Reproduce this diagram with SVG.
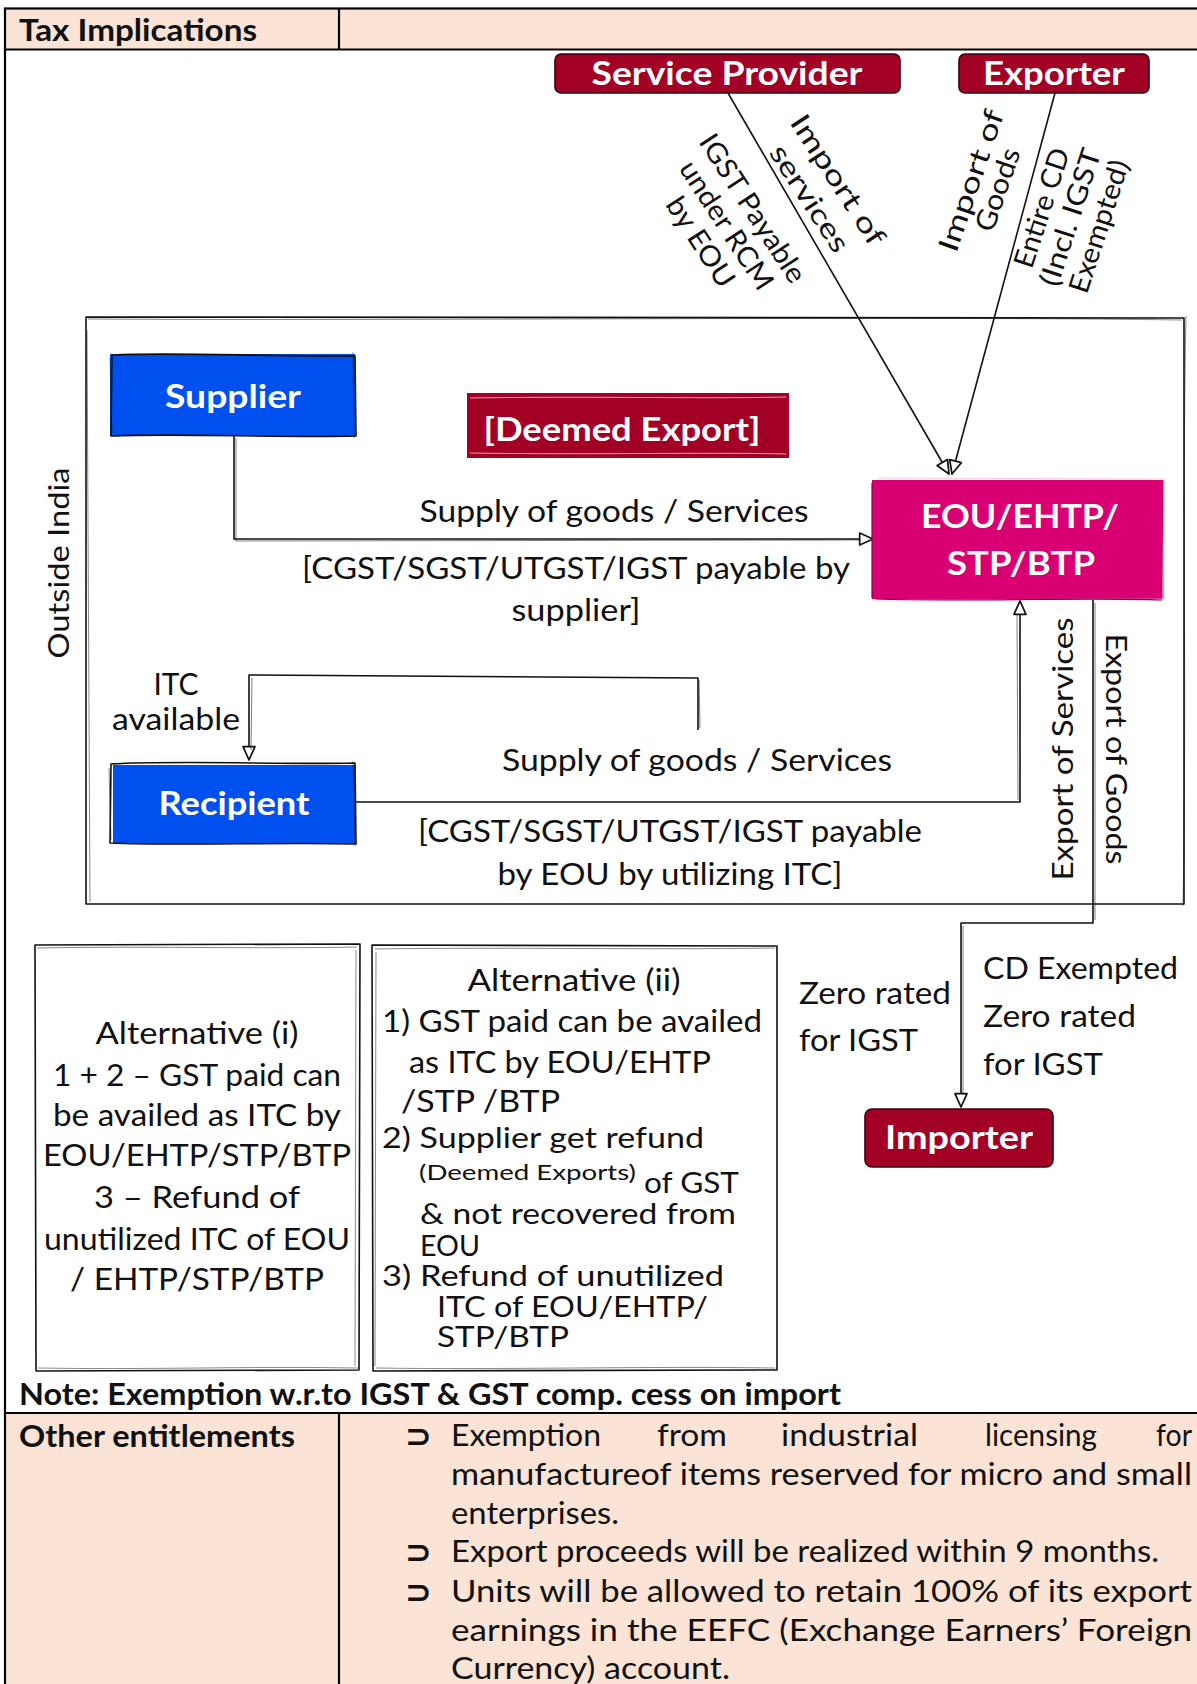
<svg xmlns="http://www.w3.org/2000/svg" width="1197" height="1684" viewBox="0 0 1197 1684">
  <defs>
    <marker id="arrowOpen" viewBox="0 0 12 12" refX="11" refY="6" markerWidth="16" markerHeight="16" markerUnits="userSpaceOnUse" orient="auto">
      <path d="M1,1.5 L11,6 L1,10.5 Z" fill="#ffffff" stroke="#111" stroke-width="1.3" stroke-linejoin="round"/>
    </marker>
    <style>
      .txt { font-family: Lato, "Noto Sans", "DejaVu Sans", sans-serif; fill: #111; }
      .bold { font-weight: 700; }
      .lbl { font-size: 30px; }
      .node-label { font-family: Lato, "Noto Sans", sans-serif; font-size: 33px; font-weight: 700; fill: #ffffff; text-anchor: middle; }
      .rot { font-size: 28px; text-anchor: middle; }
      .mid { text-anchor: middle; }
      .frame { fill: none; stroke: #111; stroke-width: 1.6; stroke-linejoin: round; }
      .frame2 { fill: none; stroke: #111; stroke-width: 0.9; opacity: 0.55; }
      .edge { fill: none; stroke: #111; stroke-width: 1.6; stroke-linejoin: round; }
      .edge2 { fill: none; stroke: #111; stroke-width: 0.9; opacity: 0.6; }
      .grid { fill: none; stroke: #000; stroke-width: 2.2; }
      .bullet { font-family: "DejaVu Sans", sans-serif; font-size: 32px; font-weight: 700; fill: #111; }
    </style>
  </defs>

  <!-- page background -->
  <rect x="0" y="0" width="1197" height="1684" fill="#ffffff"/>

  <!-- table -->
  <g id="table">
    <rect x="5" y="8.5" width="1194" height="41" fill="#FBE4D5"/>
    <rect x="5" y="1413" width="1194" height="275" fill="#FBE4D5"/>
    <rect x="5" y="8.5" width="1194" height="1680" class="grid"/>
    <line x1="5" y1="49.5" x2="1199" y2="49.5" class="grid"/>
    <line x1="5" y1="1413" x2="1199" y2="1413" class="grid"/>
    <line x1="339" y1="8.5" x2="339" y2="49.5" class="grid"/>
    <line x1="339" y1="1413" x2="339" y2="1688" class="grid"/>
    <text x="19" y="41" class="txt bold" font-size="30" textLength="238" lengthAdjust="spacingAndGlyphs">Tax Implications</text>
    <text x="19" y="1405" class="txt bold" font-size="30" textLength="822" lengthAdjust="spacingAndGlyphs">Note: Exemption w.r.to IGST &amp; GST comp. cess on import</text>
    <text x="19" y="1447" class="txt bold" font-size="30" textLength="276" lengthAdjust="spacingAndGlyphs">Other entitlements</text>
  </g>

  <!-- other entitlements list -->
  <g id="entitlements">
    <text x="405" y="1447" class="bullet">⊃</text>
    <text class="txt lbl" y="1446">
      <tspan x="451" textLength="150" lengthAdjust="spacingAndGlyphs">Exemption</tspan>
      <tspan x="657" textLength="70" lengthAdjust="spacingAndGlyphs">from</tspan>
      <tspan x="781" textLength="137" lengthAdjust="spacingAndGlyphs">industrial</tspan>
      <tspan x="985" textLength="112" lengthAdjust="spacingAndGlyphs">licensing</tspan>
      <tspan x="1156" textLength="36" lengthAdjust="spacingAndGlyphs">for</tspan>
    </text>
    <text x="451" y="1485" class="txt lbl" textLength="741" lengthAdjust="spacingAndGlyphs">manufactureof items reserved for micro and small</text>
    <text x="451" y="1524" class="txt lbl" textLength="168" lengthAdjust="spacingAndGlyphs">enterprises.</text>
    <text x="405" y="1563" class="bullet">⊃</text>
    <text x="451" y="1562" class="txt lbl" textLength="708" lengthAdjust="spacingAndGlyphs">Export proceeds will be realized within 9 months.</text>
    <text x="405" y="1603" class="bullet">⊃</text>
    <text x="451" y="1602" class="txt lbl" textLength="741" lengthAdjust="spacingAndGlyphs">Units will be allowed to retain 100% of its export</text>
    <text x="451" y="1641" class="txt lbl" textLength="741" lengthAdjust="spacingAndGlyphs">earnings in the EEFC (Exchange Earners’ Foreign</text>
    <text x="451" y="1679" class="txt lbl" textLength="279" lengthAdjust="spacingAndGlyphs">Currency) account.</text>
  </g>

  <!-- outer frame: Outside India -->
  <g id="outside-india">
    <path d="M86,317 L1184,318 L1184,904 L86,904 Z" class="frame"/>
    <path d="M88,319 C400,321 900,316 1182,320 M1186,316 C1182,500 1187,700 1183,906 M90,902 L87,330" class="frame2"/>
    <text transform="translate(59,563) rotate(-90)" class="txt mid" font-size="28" y="10" textLength="191" lengthAdjust="spacingAndGlyphs">Outside India</text>
  </g>

  <!-- connectors -->
  <g id="connectors">
    <!-- Service Provider to EOU -->
    <path d="M728,93 L949,474" class="edge" marker-end="url(#arrowOpen)"/>
    <!-- Exporter to EOU -->
    <path d="M1055,93 L952,474" class="edge" marker-end="url(#arrowOpen)"/>
    <!-- Supplier to EOU -->
    <path d="M234,436 L234,539 L873,539" class="edge" marker-end="url(#arrowOpen)"/>
    <path d="M236,438 L236,541 L860,540" class="edge2"/>
    <!-- Recipient to EOU -->
    <path d="M355,802 L1020,802 L1020,601" class="edge" marker-end="url(#arrowOpen)"/>
    <path d="M1018,800 L1017,615" class="edge2"/>
    <!-- ITC available loop -->
    <path d="M698,730 L698,678 L249,675 L249,760" class="edge" marker-end="url(#arrowOpen)"/>
    <path d="M700,728 L699,680 M252,678 L251,750" class="edge2"/>
    <!-- EOU to Importer (export of goods) -->
    <path d="M1093,600 L1093,923 L961,923 L961,1107" class="edge" marker-end="url(#arrowOpen)"/>
    <path d="M1095,603 L1095,920 M963,926 L963,1095" class="edge2"/>

    <!-- labels on connectors -->
    <g class="txt">
      <text x="614" y="522" class="lbl mid" textLength="389" lengthAdjust="spacingAndGlyphs">Supply of goods / Services</text>
      <text x="576" y="579" class="lbl mid" textLength="548" lengthAdjust="spacingAndGlyphs">[CGST/SGST/UTGST/IGST payable by</text>
      <text x="576" y="621" class="lbl mid" textLength="129" lengthAdjust="spacingAndGlyphs">supplier]</text>

      <text x="697" y="771" class="lbl mid" textLength="390" lengthAdjust="spacingAndGlyphs">Supply of goods / Services</text>
      <text x="670" y="842" class="lbl mid" textLength="504" lengthAdjust="spacingAndGlyphs">[CGST/SGST/UTGST/IGST payable</text>
      <text x="670" y="885" class="lbl mid" textLength="345" lengthAdjust="spacingAndGlyphs">by EOU by utilizing ITC]</text>

      <text x="176" y="695" class="lbl mid" textLength="45" lengthAdjust="spacingAndGlyphs">ITC</text>
      <text x="176" y="730" class="lbl mid" textLength="128" lengthAdjust="spacingAndGlyphs">available</text>

      <g transform="translate(824,189) rotate(57)">
        <text x="0" y="-7" class="rot" textLength="150" lengthAdjust="spacingAndGlyphs">Import of</text>
        <text x="0" y="27" class="rot" textLength="122" lengthAdjust="spacingAndGlyphs">services</text>
      </g>
      <g transform="translate(727,225) rotate(57)">
        <text x="0" y="-21" class="rot" textLength="171" lengthAdjust="spacingAndGlyphs">IGST Payable</text>
        <text x="0" y="10" class="rot" textLength="148" lengthAdjust="spacingAndGlyphs">under RCM</text>
        <text x="0" y="41" class="rot" textLength="102" lengthAdjust="spacingAndGlyphs">by EOU</text>
      </g>
      <g transform="translate(984,185) rotate(-71)">
        <text x="0" y="-4" class="rot" textLength="148" lengthAdjust="spacingAndGlyphs">Import of</text>
        <text x="0" y="24" class="rot" textLength="86" lengthAdjust="spacingAndGlyphs">Goods</text>
      </g>
      <g transform="translate(1070,217) rotate(-72)">
        <text x="0" y="-20" class="rot" textLength="124" lengthAdjust="spacingAndGlyphs">Entire CD</text>
        <text x="0" y="10" class="rot" textLength="143" lengthAdjust="spacingAndGlyphs">(Incl. IGST</text>
        <text x="0" y="40" class="rot" textLength="138" lengthAdjust="spacingAndGlyphs">Exempted)</text>
      </g>

      <text transform="translate(1063,749) rotate(-90)" y="10" class="mid" font-size="28" textLength="263" lengthAdjust="spacingAndGlyphs">Export of Services</text>
      <text transform="translate(1116,749) rotate(90)" y="10" class="mid" font-size="28" textLength="231" lengthAdjust="spacingAndGlyphs">Export of Goods</text>

      <text x="799" y="1004" class="lbl" textLength="152" lengthAdjust="spacingAndGlyphs">Zero rated</text>
      <text x="799" y="1051" class="lbl" textLength="119" lengthAdjust="spacingAndGlyphs">for IGST</text>
      <text x="983" y="979" class="lbl" textLength="195" lengthAdjust="spacingAndGlyphs">CD Exempted</text>
      <text x="983" y="1027" class="lbl" textLength="153" lengthAdjust="spacingAndGlyphs">Zero rated</text>
      <text x="983" y="1075" class="lbl" textLength="120" lengthAdjust="spacingAndGlyphs">for IGST</text>
    </g>
  </g>

  <!-- nodes -->
  <g id="service-provider">
    <rect x="555" y="54" width="345" height="39" rx="6" fill="#A20025" stroke="#3a0010" stroke-width="1.6"/>
    <text x="727" y="85" class="node-label" textLength="271" lengthAdjust="spacingAndGlyphs">Service Provider</text>
  </g>

  <g id="exporter">
    <rect x="959" y="54" width="190" height="39" rx="6" fill="#A20025" stroke="#3a0010" stroke-width="1.6"/>
    <text x="1054" y="85" class="node-label" textLength="142" lengthAdjust="spacingAndGlyphs">Exporter</text>
  </g>

  <g id="supplier">
    <rect x="110" y="354" width="245" height="82" fill="#0050EF"/>
    <path d="M112,355 C180,352 290,357 355,356 L356,436 C280,438 180,433 111,436 Z" class="frame"/>
    <path d="M110,358 L112,432 M353,352 L354,438" class="frame2"/>
    <text x="233" y="408" class="node-label" textLength="136" lengthAdjust="spacingAndGlyphs">Supplier</text>
  </g>

  <g id="deemed-export">
    <rect x="467" y="393" width="322" height="65" fill="#A20025"/>
    <path d="M470,398 C600,396 700,399 786,397 M470,453 C600,455 700,452 786,454" fill="none" stroke="#f2c7cf" stroke-width="1" opacity="0.8"/>
    <text x="622" y="441" class="node-label" font-size="34" font-weight="400" textLength="277" lengthAdjust="spacingAndGlyphs">[Deemed Export]</text>
  </g>

  <g id="eou">
    <rect x="872" y="480" width="292" height="119" fill="#D80073"/>
    <path d="M878,478 L1164,479 L1163,599 L873,600" fill="none" stroke="#f7cfe2" stroke-width="1.2"/>
    <path d="M872,483 L872,598 M876,599 C980,602 1080,597 1162,600" fill="none" stroke="#8a0048" stroke-width="1.2"/>
    <text x="1020" y="528" class="node-label" font-size="34" font-weight="400" textLength="198" lengthAdjust="spacingAndGlyphs">EOU/EHTP/</text>
    <text x="1021" y="575" class="node-label" font-size="34" font-weight="400" textLength="148" lengthAdjust="spacingAndGlyphs">STP/BTP</text>
  </g>

  <g id="recipient">
    <rect x="113" y="765" width="242" height="79" fill="#0050EF"/>
    <path d="M111,764 C180,760 290,765 355,763 L356,844 C280,842 180,846 110,843 Z" class="frame"/>
    <path d="M109,768 L111,840 M353,761 L355,846" class="frame2"/>
    <text x="234" y="815" class="node-label" textLength="151" lengthAdjust="spacingAndGlyphs">Recipient</text>
  </g>

  <g id="importer">
    <rect x="865" y="1109" width="188" height="58" rx="7" fill="#A20025" stroke="#3a0010" stroke-width="1.6"/>
    <text x="959" y="1149" class="node-label" textLength="148" lengthAdjust="spacingAndGlyphs">Importer</text>
  </g>

  <g id="alternative-i">
    <path d="M35,945 L360,944 L359,1370 L36,1371 Z" class="frame"/>
    <path d="M37,948 C150,946 260,949 357,947 M356,950 L355,1366 M38,1368 C150,1370 250,1366 358,1368" class="frame2"/>
    <g class="txt lbl mid">
      <text x="197" y="1044" textLength="203" lengthAdjust="spacingAndGlyphs">Alternative (i)</text>
      <text x="197" y="1086" textLength="288" lengthAdjust="spacingAndGlyphs">1 + 2 – GST paid can</text>
      <text x="197" y="1126" textLength="288" lengthAdjust="spacingAndGlyphs">be availed as ITC by</text>
      <text x="197" y="1166" textLength="308" lengthAdjust="spacingAndGlyphs">EOU/EHTP/STP/BTP</text>
      <text x="197" y="1208" textLength="206" lengthAdjust="spacingAndGlyphs">3  – Refund of</text>
      <text x="197" y="1250" textLength="306" lengthAdjust="spacingAndGlyphs">unutilized ITC of EOU</text>
      <text x="197" y="1290" textLength="254" lengthAdjust="spacingAndGlyphs">/ EHTP/STP/BTP</text>
    </g>
  </g>

  <g id="alternative-ii">
    <path d="M372,945 L777,946 L777,1370 L373,1371 Z" class="frame"/>
    <path d="M375,949 C500,947 650,950 775,948 M376,952 L375,1366 M376,1368 C500,1370 650,1366 775,1368" class="frame2"/>
    <g class="txt lbl">
      <text x="574" y="991" class="mid" textLength="213" lengthAdjust="spacingAndGlyphs">Alternative (ii)</text>
      <text x="382" y="1032" textLength="380" lengthAdjust="spacingAndGlyphs">1) GST paid can be availed</text>
      <text x="409" y="1073" textLength="302" lengthAdjust="spacingAndGlyphs">as ITC by EOU/EHTP</text>
      <text x="401" y="1112" textLength="159" lengthAdjust="spacingAndGlyphs">/STP /BTP</text>
      <text x="382" y="1148" font-size="29" textLength="322" lengthAdjust="spacingAndGlyphs">2) Supplier get refund</text>
      <text x="419" y="1180" font-size="21" textLength="217" lengthAdjust="spacingAndGlyphs">(Deemed Exports)</text>
      <text x="644" y="1193" font-size="29" textLength="95" lengthAdjust="spacingAndGlyphs">of GST</text>
      <text x="420" y="1224" font-size="28" textLength="316" lengthAdjust="spacingAndGlyphs">&amp; not recovered from</text>
      <text x="420" y="1256" font-size="28" textLength="60" lengthAdjust="spacingAndGlyphs">EOU</text>
      <text x="382" y="1286" font-size="29" textLength="342" lengthAdjust="spacingAndGlyphs">3)  Refund of unutilized</text>
      <text x="437" y="1317" font-size="28" textLength="271" lengthAdjust="spacingAndGlyphs">ITC of EOU/EHTP/</text>
      <text x="437" y="1347" font-size="28" textLength="132" lengthAdjust="spacingAndGlyphs">STP/BTP</text>
    </g>
  </g>
</svg>
